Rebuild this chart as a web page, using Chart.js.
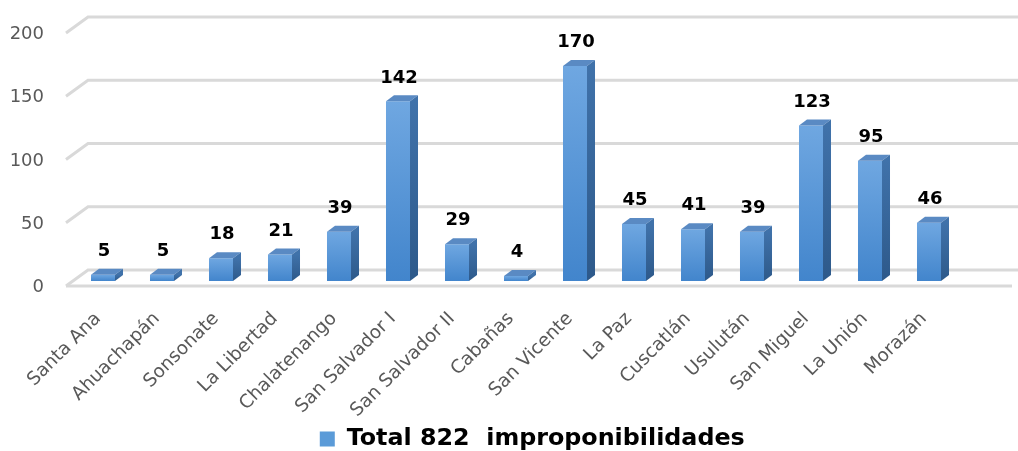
<!DOCTYPE html>
<html><head><meta charset="utf-8">
<script src="https://cdn.jsdelivr.net/npm/chart.js@4.4.1/dist/chart.umd.min.js"></script>
<style>html,body{margin:0;padding:0;background:#fff}#wrap{width:1018px;height:451px;position:relative}</style>
</head><body><div id="wrap"><canvas id="c"></canvas></div>
<script>
const categories = ["Santa Ana","Ahuachapán","Sonsonate","La Libertad","Chalatenango","San Salvador I","San Salvador II","Cabañas","San Vicente","La Paz","Cuscatlán","Usulután","San Miguel","La Unión","Morazán"];
const values = [5,5,18,21,39,142,29,4,170,45,41,39,123,95,46];
const seriesName = "Total 822  improponibilidades";
const yTicks = [0,50,100,150,200];
const yMin = 0, yMax = 200, yStep = 50;

const DX = 8, DY = 6;
const PLOT_BOTTOM = 281;

function frontFill(c){
  const ch = c.chart, y = ch.scales && ch.scales.y;
  if (c.type !== 'data' || !y) return '#5b9bd5';
  const top = y.getPixelForValue(c.raw), base = y.getPixelForValue(0);
  if (!isFinite(top) || !isFinite(base) || top === base) return '#5b9bd5';
  const g = ch.ctx.createLinearGradient(0, top, 0, base);
  g.addColorStop(0, '#6fa7e1');
  g.addColorStop(1, '#4285cc');
  return g;
}

const wallPlugin = {
  id: 'wall',
  afterLayout(chart){
    const lg = chart.legend;
    if (lg) { lg.top += 10; lg.bottom += 10; lg.left += 53; lg.right += 53; }
    const xs = chart.scales.x;
    if (xs) { xs.bottom = chart.height; }
  },
  beforeDatasetsDraw(chart){
    const {ctx, chartArea:a, scales:{y}} = chart;
    ctx.save();
    ctx.strokeStyle = '#d9d9d9'; ctx.lineWidth = 3;
    const fx = a.left - 7.5, bx = a.left + 14.5;
    yTicks.forEach(v => {
      const p = y.getPixelForValue(v);
      ctx.beginPath();
      ctx.moveTo(fx, p + 5);
      ctx.lineTo(bx, p - 11);
      ctx.lineTo(chart.width + 5, p - 11);
      ctx.stroke();
    });
    const p0 = y.getPixelForValue(0);
    ctx.beginPath();
    ctx.moveTo(fx, p0 + 5);
    ctx.lineTo(a.right + 53.5, p0 + 5);
    ctx.stroke();
    ctx.restore();
  },
  afterDatasetsDraw(chart){
    const {ctx} = chart;
    const meta = chart.getDatasetMeta(0);
    ctx.save();
    meta.data.forEach((el, i) => {
      const x = el.x, w = el.width, top = el.y, base = el.base;
      const l = x - w/2, r = x + w/2;
      ctx.fillStyle = '#5a8ac3';
      ctx.beginPath();
      ctx.moveTo(l, top); ctx.lineTo(l + DX, top - DY); ctx.lineTo(r + DX, top - DY); ctx.lineTo(r, top);
      ctx.closePath(); ctx.fill();
      const g = ctx.createLinearGradient(0, top, 0, base);
      g.addColorStop(0, '#4072aa'); g.addColorStop(1, '#2d598a');
      ctx.fillStyle = g;
      ctx.beginPath();
      ctx.moveTo(r, top); ctx.lineTo(r + DX, top - DY); ctx.lineTo(r + DX, base - DY); ctx.lineTo(r, base);
      ctx.closePath(); ctx.fill();
    });
    ctx.fillStyle = '#000';
    ctx.font = 'bold 18px "DejaVu Sans"';
    ctx.textAlign = 'center'; ctx.textBaseline = 'middle';
    meta.data.forEach((el, i) => {
      ctx.fillText(String(values[i]), el.x + 1, el.y - 23.5);
    });
    ctx.restore();
  }
};

new Chart(document.getElementById('c'), {
  type: 'bar',
  data: {
    labels: categories,
    datasets: [{
      label: seriesName,
      data: values,
      backgroundColor: frontFill,
      borderWidth: 0,
      categoryPercentage: 1,
      barPercentage: 0.407
    }]
  },
  options: {
    responsive: true,
    maintainAspectRatio: false,
    animation: false,
    layout: { padding: { top: 28, right: 59.5, left: 0, bottom: 0 } },
    plugins: {
      tooltip: { enabled: false },
      legend: {
        position: 'bottom',
        labels: {
          boxWidth: 15, boxHeight: 15, padding: 10,
          color: '#000',
          font: { family: 'DejaVu Sans', size: 23.8, weight: 'bold' },
          generateLabels(chart){
            return [{ text: seriesName, fillStyle: '#5b9bd8', strokeStyle: '#5b9bd8', lineWidth: 0, datasetIndex: 0 }];
          }
        }
      }
    },
    scales: {
      x: {
        grid: { display: false, drawTicks: false }, border: { display: false },
        ticks: { autoSkip: false, maxRotation: 45, minRotation: 45, padding: 27, labelOffset: -5,
          font: { family: 'DejaVu Sans', size: 18.5 }, color: '#595959' },
        afterFit(s){
          const lh = s.chart.legend ? s.chart.legend.height : 44;
          s.height = s.chart.height - lh - PLOT_BOTTOM;
          s.paddingLeft = 0; s.paddingRight = 0;
        }
      },
      y: {
        min: yMin, max: yMax,
        grid: { display: false, drawTicks: false }, border: { display: false },
        ticks: { stepSize: yStep, padding: 29.5, labelOffset: 6.5,
          font: { family: 'DejaVu Sans', size: 18 }, color: '#595959' },
        afterFit(s){ s.width = 73.5; s.paddingTop = 0; s.paddingBottom = 0; }
      }
    }
  },
  plugins: [wallPlugin]
});
</script>
</body></html>
